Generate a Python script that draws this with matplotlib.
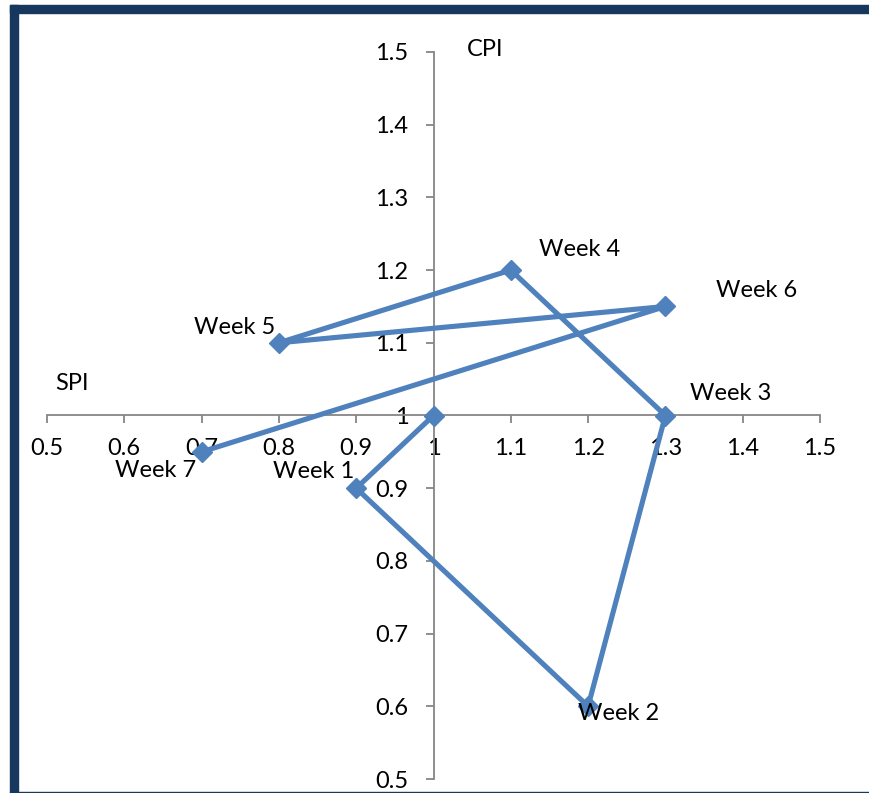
import matplotlib.pyplot as plt
from matplotlib.patches import Rectangle

plt.rcParams['font.family'] = ['Lato', 'DejaVu Sans']

spi = [1.0, 0.9, 1.2, 1.3, 1.1, 0.8, 1.3, 0.7]
cpi = [1.0, 0.9, 0.6, 1.0, 1.2, 1.1, 1.15, 0.95]
labels = ['', 'Week 1', 'Week 2', 'Week 3', 'Week 4', 'Week 5', 'Week 6', 'Week 7']
# label offsets in pixels from each point
offsets = [(0, 0), (-43, 17), (30, -7), (65, 22), (69, 21), (-44, 15), (91, 16), (-46, -19)]

W, H = 870, 793
fig = plt.figure(figsize=(W / 100, H / 100), dpi=100)
ax = fig.add_axes([47 / W, 1 - 779 / H, (820 - 47) / W, (779 - 52) / H])

navy = '#17375E'
fig.patches.append(Rectangle((10 / W, 1 - 13 / H), 1, 8 / H, transform=fig.transFigure,
                             color=navy, zorder=0))
fig.patches.append(Rectangle((10 / W, 0), 8 / W, 1 - 5 / H, transform=fig.transFigure,
                             color=navy, zorder=0))
fig.patches.append(Rectangle((10 / W, 0), 1, 1.5 / H, transform=fig.transFigure,
                             color=navy, zorder=0))

blue = '#4F81BD'
ax.plot(spi, cpi, color=blue, lw=3.7, marker='D', markersize=10, zorder=3, clip_on=False)

fs = 17
for x, y, t, off in zip(spi, cpi, labels, offsets):
    if t:
        ax.annotate(t, (x, y), xytext=off, textcoords='offset pixels',
                    ha='center', va='center', fontsize=fs, zorder=4)

ax.set_xlim(0.5, 1.5)
ax.set_ylim(0.5, 1.5)
xt = [0.5, 0.6, 0.7, 0.8, 0.9, 1, 1.1, 1.2, 1.3, 1.4, 1.5]
ax.set_xticks(xt)
ax.set_yticks(xt)
ax.set_xticklabels(['1' if v == 1 else str(v) for v in xt])
ax.set_yticklabels(['1' if v == 1 else str(v) for v in xt])

ax.spines['left'].set_position(('data', 1))
ax.spines['bottom'].set_position(('data', 1))
ax.spines['top'].set_visible(False)
ax.spines['right'].set_visible(False)
for s in ('left', 'bottom'):
    ax.spines[s].set_color('#868686')
    ax.spines[s].set_linewidth(1.3)
ax.tick_params(axis='both', colors='#868686', labelcolor='black', labelsize=fs,
               length=6, width=1.3, direction='out')
ax.tick_params(axis='x', pad=10)
ax.tick_params(axis='y', pad=12)
ax.patch.set_visible(False)

# axis titles placed in pixel coordinates measured from the top
ax.text(485, H - 50, 'CPI', transform=None, fontsize=fs, ha='center', va='center')
ax.text(72, H - 383, 'SPI', transform=None, fontsize=fs, ha='center', va='center')

fig.savefig('out.png', dpi=100)
